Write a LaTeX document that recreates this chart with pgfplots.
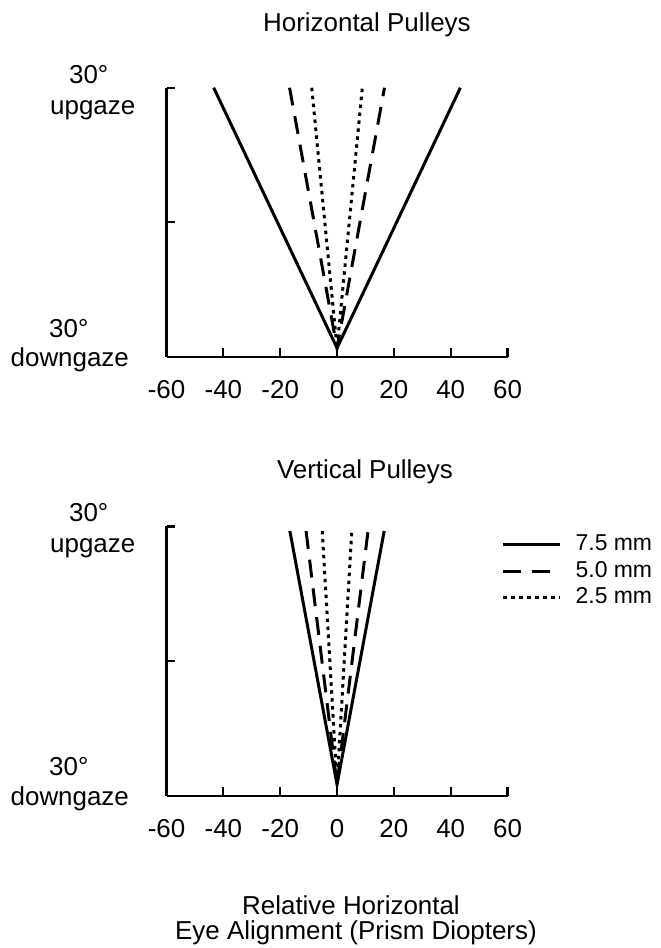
\documentclass[border=0pt]{standalone}
\usepackage{fontspec}
\setmainfont{Liberation Sans}
\usepackage{pgfplots}
\pgfplotsset{compat=1.18}
\newcommand\bigf{\fontsize{26}{31}\selectfont}
\newcommand\legf{\fontsize{23}{27}\selectfont}
\pgfplotsset{
  myax/.style={
    scale only axis, width=342pt, height=270pt,
    xmin=-60,xmax=60,ymin=-30,ymax=30,
    axis x line=bottom, axis y line=left,
    axis line style={-, line width=2.4pt},
    xtick={-60,-40,-20,0,20,40,60},
    xticklabels={-60,-40,-20,0,20,40,60},
    ytick={0,30}, yticklabels={},
    tick align=inside, major tick length=9pt,
    tick style={line width=2.2pt, black},
    xticklabel style={font=\bigf, yshift=-20pt},
    clip=false,
  },
  s1/.style={black, line width=3pt, solid},
  s2/.style={black, line width=3pt, dash pattern=on 18pt off 11pt},
  s3/.style={black, line width=3pt, dash pattern=on 3.5pt off 4.5pt},
}
\begin{document}
\begin{tikzpicture}[x=1pt,y=1pt]
\path (0,0) rectangle (662,948);
% top axis
\begin{axis}[myax, at={(167pt,590pt)}, anchor=south west]
\addplot[s1] coordinates {(-43.4,30) (0,-28) (43.4,30)};
\addplot[s2] coordinates {(-16.7,30) (0,-28) (16.7,30)};
\addplot[s3] coordinates {(-8.9,30) (0,-28) (8.9,30)};
\end{axis}
% bottom axis
\begin{axis}[myax, at={(167pt,150pt)}, anchor=south west,
  legend style={draw=none, fill=none, font=\legf, at={(0.974,0.987)}, anchor=north west,
    row sep=3pt, nodes={inner sep=1pt, text height=17pt, text depth=5pt},
    /tikz/every odd column/.append style={column sep=13pt}},
  legend cell align=left,
  legend image code/.code={\draw[#1] (0pt,0pt) -- (57pt,0pt);}]
\addplot[s1] coordinates {(-16.6,29) (0,-27.5) (16.6,29)};
\addlegendentry{7.5 mm}
\addplot[s2] coordinates {(-10.9,29) (0,-27.5) (10.9,29)};
\addlegendentry{5.0 mm}
\addplot[s3] coordinates {(-5.2,29) (0,-27.5) (5.2,29)};
\addlegendentry{2.5 mm}
\end{axis}
% titles
\node[anchor=base, font=\bigf] at (368,916) {Horizontal Pulleys};
\node[anchor=base, font=\bigf] at (366,468) {Vertical Pulleys};
% y labels top
\node[anchor=base, font=\bigf] at (89,864) {30°};
\node[anchor=base, font=\bigf] at (93,833) {upgaze};
\node[anchor=base, font=\bigf] at (69,610) {30°};
\node[anchor=base, font=\bigf] at (70,580) {downgaze};
% y labels bottom
\node[anchor=base, font=\bigf] at (89,425) {30°};
\node[anchor=base, font=\bigf] at (93,394) {upgaze};
\node[anchor=base, font=\bigf] at (69,170) {30°};
\node[anchor=base, font=\bigf] at (70,140) {downgaze};
% x label
\node[anchor=base, font=\bigf] at (352,31) {Relative Horizontal};
\node[anchor=base, font=\bigf] at (357,6) {Eye Alignment (Prism Diopters)};
\end{tikzpicture}
\end{document}
